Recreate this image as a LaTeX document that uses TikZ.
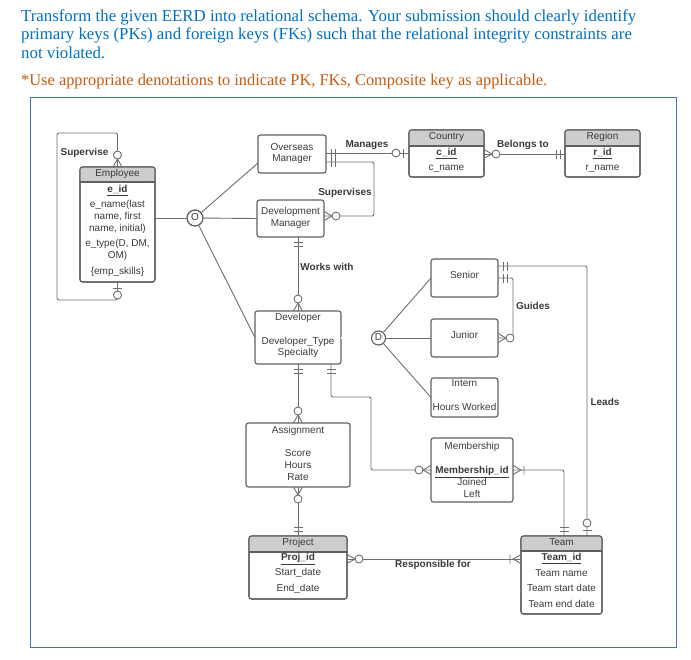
\documentclass[tikz,border=0pt]{standalone}
\usepackage{fontspec}
\setmainfont{Liberation Sans}
\newfontfamily\serf{Liberation Serif}
\usetikzlibrary{calc}
\definecolor{ttlblue}{HTML}{0070C0}
\definecolor{ttlorange}{HTML}{C55A11}
\definecolor{framec}{HTML}{4472C4}
\definecolor{linec}{HTML}{6E6E6E}
\definecolor{boxc}{HTML}{5F5F5F}
\definecolor{hdrc}{HTML}{CDCDCD}
\definecolor{txtc}{HTML}{3A3A3A}
\newcommand{\hdrfill}[2]{%
  \begin{scope}
    \clip[rounded corners=2.5pt] (#1.north west) rectangle (#1.south east);
    \fill[hdrc] (#1.north west) rectangle (#1.east |- 0,#2);
  \end{scope}
  \draw[boxc,line width=1.1pt,rounded corners=2.5pt] (#1.north west) rectangle (#1.south east);
  \draw[boxc,line width=1.1pt] (#1.west |- 0,#2) -- (#1.east |- 0,#2);}
\begin{document}
\begin{tikzpicture}[x=1pt,y=-1pt,
  entbox/.style={draw=boxc, line width=1.1pt, rounded corners=2.5pt, inner sep=0pt, outer sep=0pt},
  txt/.style={font=\fontsize{10}{12}\selectfont, text=txtc, inner sep=0pt, text height=7.2pt, text depth=2.2pt},
  lbl/.style={txt, font=\fontsize{10}{12}\selectfont\bfseries},
  erconn/.style={draw=linec, line width=0.9pt, rounded corners=2pt},
  ermark/.style={draw=linec, line width=0.9pt},
  zm/.pic={\draw[ermark] (0,-4.5) -- (8,0) -- (0,4.5); \draw[ermark,fill=white] (12,0) circle (4pt);},
  zo/.pic={\draw[ermark] (6,-4.5) -- (6,4.5); \draw[ermark,fill=white] (13,0) circle (4pt);},
  oo/.pic={\draw[ermark] (5,-4.5) -- (5,4.5) (9,-4.5) -- (9,4.5);},
  omny/.pic={\draw[ermark] (0,-4.5) -- (8,0) -- (0,4.5) (11,-4.5) -- (11,4.5);},
  ttl/.style={anchor=base west, inner sep=0pt, font=\serf\fontsize{16.8}{19}\selectfont}
]
\useasboundingbox (0,0) rectangle (691,659);
% title
\node[ttl, text=ttlblue] (t1) at (21,21) {Transform the given EERD into relational schema. Your submission should clearly identify};
\node[ttl, text=ttlblue] (t2) at (21,39.5) {primary keys (PKs) and foreign keys (FKs) such that the relational integrity constraints are};
\node[ttl, text=ttlblue] (t3) at (21,58) {not violated.};
\node[ttl, text=ttlorange, font=\serf\fontsize{16.4}{19}\selectfont] (t4) at (21,85) {*Use appropriate denotations to indicate PK, FKs, Composite key as applicable.};
\draw[framec, line width=1pt] (30,97) rectangle (676,647);

% entities
\node[entbox, minimum width=75pt, minimum height=115pt] (emp) at (117.5,224.5) {};
\hdrfill{emp}{182}
\node[entbox, minimum width=68pt, minimum height=38pt] (om) at (292,154) {};
\node[entbox, minimum width=67pt, minimum height=37pt] (dm) at (290.5,218.5) {};
\node[entbox, minimum width=75pt, minimum height=47pt] (ctry) at (446.5,153.5) {};
\hdrfill{ctry}{146}
\node[entbox, minimum width=75pt, minimum height=47pt] (reg) at (602.5,153.5) {};
\hdrfill{reg}{146}
\node[entbox, minimum width=86pt, minimum height=53pt] (dev) at (298,337.5) {};
\node[entbox, minimum width=67pt, minimum height=38pt] (sen) at (464.5,278) {};
\node[entbox, minimum width=67pt, minimum height=38pt] (jun) at (464.5,338) {};
\node[entbox, minimum width=67pt, minimum height=39pt] (int) at (464.5,397.5) {};
\node[entbox, minimum width=104pt, minimum height=64pt] (asg) at (298,455) {};
\node[entbox, minimum width=82pt, minimum height=64pt] (mem) at (472,470) {};
\node[entbox, minimum width=98pt, minimum height=63pt] (proj) at (298,567.5) {};
\hdrfill{proj}{552}
\node[entbox, minimum width=81pt, minimum height=78pt] (team) at (561.5,575) {};
\hdrfill{team}{551}

% entity texts
\node[txt] (emp1) at (117.5,174) {Employee};
\node[txt] (emp2) at (117.5,190) {\textbf{\underline{e\_id}}};
\node[txt] (emp3) at (117.5,205) {e\_name(last};
\node[txt] (emp4) at (117.5,217) {name, first};
\node[txt] (emp5) at (117.5,229) {name, initial)};
\node[txt] (emp6) at (117.5,244) {e\_type(D, DM,};
\node[txt] (emp7) at (117.5,256) {OM)};
\node[txt] (emp8) at (117.5,272) {\{emp\_skills\}};
\node[txt] (om1) at (292,148) {Overseas};
\node[txt] (om2) at (292,159) {Manager};
\node[txt] (dm1) at (290.5,212) {Development};
\node[txt] (dm2) at (290.5,224) {Manager};
\node[txt] (c1) at (446.5,137) {Country};
\node[txt] (c2) at (446.5,153) {\textbf{\underline{c\_id}}};
\node[txt] (c3) at (446.5,168) {c\_name};
\node[txt] (r1) at (602.5,137) {Region};
\node[txt] (r2) at (602.5,153) {\textbf{\underline{r\_id}}};
\node[txt] (r3) at (602.5,168) {r\_name};
\node[txt] (d1) at (298,318) {Developer};
\node[txt] (d2) at (298,342) {Developer\_Type};
\node[txt] (d3) at (298,353) {Specialty};
\node[txt] (s1) at (464.5,276) {Senior};
\node[txt] (j1) at (464.5,336) {Junior};
\node[txt] (i1) at (464.5,384) {Intern};
\node[txt] (i2) at (464.5,408) {Hours Worked};
\node[txt] (a1) at (298,431) {Assignment};
\node[txt] (a2) at (298,454) {Score};
\node[txt] (a3) at (298,466) {Hours};
\node[txt] (a4) at (298,478) {Rate};
\node[txt] (m1) at (472,447) {Membership};
\node[txt] (m2) at (472,471) {\textbf{\underline{Membership\_id}}};
\node[txt] (m3) at (472,483) {Joined};
\node[txt] (m4) at (472,495) {Left};
\node[txt] (p1) at (298,543) {Project};
\node[txt] (p2) at (298,558) {\textbf{\underline{Proj\_id}}};
\node[txt] (p3) at (298,573) {Start\_date};
\node[txt] (p4) at (298,589) {End\_date};
\node[txt] (tm1) at (561.5,543) {Team};
\node[txt] (tm2) at (561.5,558) {\textbf{\underline{Team\_id}}};
\node[txt] (tm3) at (561.5,574) {Team name};
\node[txt] (tm4) at (561.5,589) {Team start date};
\node[txt] (tm5) at (561.5,605) {Team end date};

% circles
\node[txt, draw=boxc, fill=white, circle, minimum size=16pt, line width=1.3pt] (ocirc) at (195,218) {O};
\node[txt, draw=boxc, fill=white, circle, minimum size=14pt, line width=1.1pt] (dcirc) at (378.5,338) {D};

% relationship labels
\node[lbl] (lsup) at (84.5,153) {Supervise};
\node[lbl] (lman) at (367,145) {Manages};
\node[lbl] (lsups) at (345,193) {Supervises};
\node[lbl] (lbel) at (523,145) {Belongs to};
\node[lbl] (lwork) at (327,268) {Works with};
\node[lbl] (lgui) at (533,307) {Guides};
\node[lbl] (llead) at (605,403) {Leads};
\node[lbl] (lresp) at (433,565) {Responsible for};

% connectors
\draw[erconn] (emp.north) -- (emp.north |- 0,133) -- (57,133) -- (57,300) -- (emp.south |- 0,300) -- (emp.south);
\draw[erconn] (emp.east |- ocirc) -- (ocirc);
\draw[erconn] (ocirc) -- (om.west |- 0,163);
\draw[erconn] (ocirc) -- (dm.west);
\draw[erconn] (ocirc) -- (dev.west);
\draw[erconn] (om.east |- 0,153) -- (ctry.west |- 0,153);
\draw[erconn] (om.east |- 0,162) -- (374,162) -- (374,216) -- (dm.east |- 0,216);
\draw[erconn] (ctry.east |- 0,154) -- (reg.west |- 0,154);
\draw[erconn] (dev.north |- dm.south) -- (dev.north);
\draw[draw=linec, line width=0.7pt, double=white, double distance=1.2pt] (dev.east |- dcirc) -- (dcirc);
\draw[erconn] (dcirc) -- (sen.west);
\draw[erconn] (dcirc) -- (jun.west);
\draw[erconn] (dcirc) -- (int.west);
\draw[erconn] (sen.east |- 0,266) -- (587,266) -- (team.north -| 587,0);
\draw[erconn] (sen.east |- 0,278) -- (513,278) -- (513,338) -- (jun.east |- 0,338);
\draw[erconn] (dev.south) -- (asg.north);
\draw[erconn] (dev.south -| 331,0) -- (331,397) -- (371,397) -- (371,470) -- (mem.west |- 0,470);
\draw[erconn] (mem.east |- 0,470) -- (564,470) -- (team.north -| 564,0);
\draw[erconn] (asg.south) -- (proj.north);
\draw[erconn] (proj.east |- 0,559) -- (team.west |- 0,559);

% marks
\pic[rotate=90] at (emp.north) {zm};
\pic[rotate=-90] at (emp.south) {zo};
\pic at (om.east |- 0,153) {oo};
\pic[rotate=180] at (ctry.west |- 0,153) {zo};
\pic at (om.east |- 0,162) {oo};
\pic at (dm.east |- 0,216) {zm};
\pic at (ctry.east |- 0,154) {zm};
\pic[rotate=180] at (reg.west |- 0,154) {oo};
\pic[rotate=-90] at (dev.north |- dm.south) {oo};
\pic[rotate=90] at (dev.north) {zm};
\pic at (sen.east |- 0,266) {oo};
\pic[rotate=90] at (team.north -| 587,0) {zo};
\pic at (sen.east |- 0,278) {oo};
\pic at (jun.east |- 0,338) {zm};
\pic[rotate=-90] at (dev.south) {oo};
\pic[rotate=90] at (asg.north) {zm};
\pic[rotate=-90] at (dev.south -| 331,0) {oo};
\pic[rotate=180] at (mem.west |- 0,470) {zm};
\pic at (mem.east |- 0,470) {omny};
\pic[rotate=90] at (team.north -| 564,0) {oo};
\pic[rotate=-90] at (asg.south) {zm};
\pic[rotate=90] at (proj.north) {oo};
\pic at (proj.east |- 0,559) {zm};
\pic[rotate=180] at (team.west |- 0,559) {omny};
\end{tikzpicture}
\end{document}
